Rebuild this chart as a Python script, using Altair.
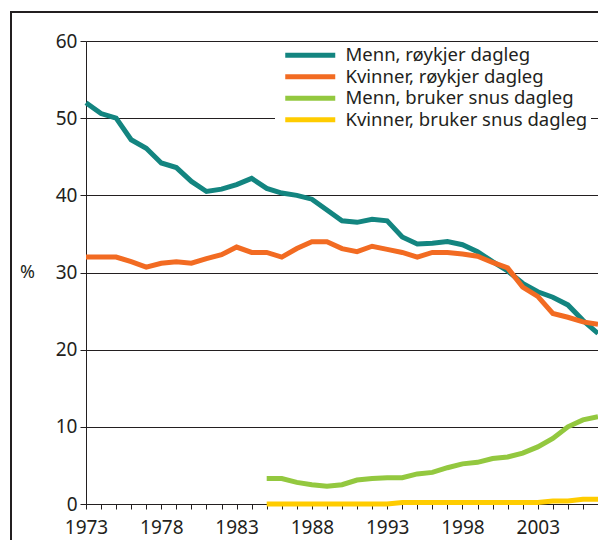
import altair as alt
import pandas as pd

years = list(range(1973, 2008))
snus_years = list(range(1985, 2008))

menn_royk = [52.0, 50.6, 50.0, 47.2, 46.1, 44.2, 43.6, 41.8, 40.5, 40.8, 41.4, 42.2,
             40.9, 40.3, 40.0, 39.5, 38.1, 36.7, 36.5, 36.9, 36.7, 34.6, 33.7, 33.8,
             34.0, 33.6, 32.7, 31.4, 30.2, 28.6, 27.5, 26.8, 25.8, 23.8, 22.1]
kvinner_royk = [32.0, 32.0, 32.0, 31.4, 30.7, 31.2, 31.4, 31.2, 31.8, 32.3, 33.3, 32.6,
                32.6, 32.0, 33.1, 34.0, 34.0, 33.1, 32.7, 33.4, 33.0, 32.6, 32.0, 32.6,
                32.6, 32.4, 32.1, 31.3, 30.6, 28.1, 26.9, 24.7, 24.2, 23.6, 23.3]
menn_snus = [3.3, 3.3, 2.8, 2.5, 2.3, 2.5, 3.1, 3.3, 3.4, 3.4, 3.9, 4.1, 4.7, 5.2,
             5.4, 5.9, 6.1, 6.6, 7.4, 8.5, 10.0, 10.9, 11.3]
kvinner_snus = [0.0, 0.0, 0.0, 0.0, 0.0, 0.0, 0.0, 0.0, 0.0, 0.2, 0.2, 0.2, 0.2, 0.2,
                0.2, 0.2, 0.2, 0.2, 0.2, 0.4, 0.4, 0.6, 0.6]

series_names = ["Menn, røykjer dagleg", "Kvinner, røykjer dagleg",
                "Menn, bruker snus dagleg", "Kvinner, bruker snus dagleg"]
series_colors = ["#138580", "#f26b22", "#93c83f", "#ffcc00"]

rows = []
for name, xs, vals in [(series_names[0], years, menn_royk),
                       (series_names[1], years, kvinner_royk),
                       (series_names[2], snus_years, menn_snus),
                       (series_names[3], snus_years, kvinner_snus)]:
    for x, v in zip(xs, vals):
        rows.append({"År": x, "Prosent": v, "Serie": name})
df = pd.DataFrame(rows)

W, H = 512, 463
FONT = "Noto Sans"
DARK = "#231f20"

lines = alt.Chart(df).mark_line(strokeWidth=5, clip=False).encode(
    x=alt.X("År:Q",
            scale=alt.Scale(domain=[1973, 2007], nice=False, zero=False),
            axis=alt.Axis(values=years, tickSize=5, tickColor=DARK, domainColor=DARK,
                          labelExpr="(datum.value - 1973) % 5 == 0 ? datum.value : ''",
                          labelFlush=False, labelOverlap=False, labelPadding=9,
                          labelFontSize=19, labelFont=FONT, labelColor=DARK,
                          grid=False, title=None)),
    y=alt.Y("Prosent:Q",
            scale=alt.Scale(domain=[0, 60], nice=False),
            axis=alt.Axis(values=[0, 10, 20, 30, 40, 50, 60], tickSize=6, tickColor=DARK,
                          domainColor=DARK, gridColor=DARK, gridWidth=1, gridOpacity=1,
                          labelFontSize=19, labelFont=FONT, labelColor=DARK, labelPadding=3,
                          title="%", titleAngle=0, titleFontSize=18, titleFont=FONT,
                          titleFontWeight="normal", titleColor=DARK, titleX=-59,
                          titleY=H / 2, titleAlign="center", titleBaseline="middle")),
    color=alt.Color("Serie:N",
                    scale=alt.Scale(domain=series_names, range=series_colors),
                    sort=series_names,
                    legend=alt.Legend(title=None, orient="none", legendX=189, legendY=2,
                                      fillColor="white", padding=3,
                                      symbolType="M-5,0H5", symbolStrokeWidth=5,
                                      symbolSize=100, symbolOffset=23,
                                      labelFontSize=18.5, labelFont=FONT,
                                      labelColor=DARK, labelOffset=26, rowPadding=0.5,
                                      labelLimit=400)),
)

frame_data = alt.Data(values=[{"k": 1}])
frame_left = alt.Chart(frame_data).mark_rule(color=DARK, strokeWidth=2, clip=False).encode(
    x=alt.value(-75), y=alt.value(-29), y2=alt.value(H + 80))
frame_top = alt.Chart(frame_data).mark_rule(color=DARK, strokeWidth=2, clip=False).encode(
    x=alt.value(-76), x2=alt.value(W + 40), y=alt.value(-29))

chart = alt.layer(lines, frame_left, frame_top).properties(
    width=W, height=H,
    autosize=alt.AutoSizeParams(type="none"),
    padding={"left": 78, "top": 33, "right": 0, "bottom": 36},
).configure_view(stroke=DARK, strokeWidth=1).configure(background="white")

chart.save("out.html", embed_options={"renderer": "svg", "actions": False})
